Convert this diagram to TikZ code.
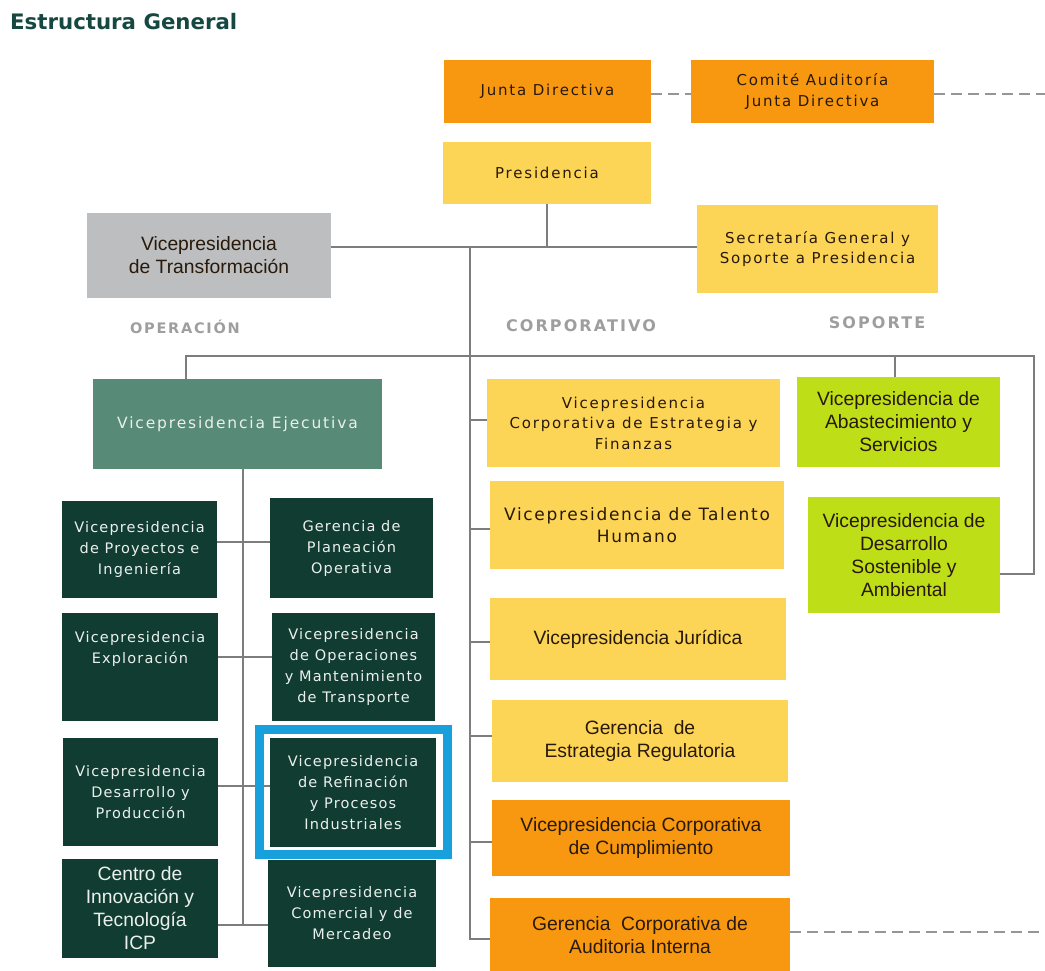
\documentclass[tikz,border=0pt]{standalone}
\usepackage{fontspec}
\newfontfamily\ari{Liberation Sans}
\newfontfamily\pixA[LetterSpace=12]{DejaVu Sans}
\newfontfamily\pixB[LetterSpace=8]{DejaVu Sans}
\newfontfamily\pixT[LetterSpace=10]{DejaVu Sans}
\newfontfamily\labf[LetterSpace=13]{DejaVu Sans}
\newfontfamily\labo[LetterSpace=12]{DejaVu Sans}
\newfontfamily\titf{DejaVu Sans}
\definecolor{cOr}{RGB}{248,152,16}
\definecolor{cYl}{RGB}{253,213,86}
\definecolor{cGn}{RGB}{190,222,24}
\definecolor{cTe}{RGB}{88,138,120}
\definecolor{cDk}{RGB}{17,60,50}
\definecolor{cGr}{RGB}{188,190,192}
\definecolor{cBl}{RGB}{24,160,220}
\definecolor{cLn}{RGB}{125,125,125}
\definecolor{cDs}{RGB}{150,150,150}
\definecolor{cTx}{RGB}{40,25,10}
\definecolor{cWt}{RGB}{235,240,236}
\definecolor{cLb}{RGB}{158,158,158}
\definecolor{cTi}{RGB}{22,72,66}
\tikzset{
  box/.style={rectangle, inner sep=0pt, outer sep=0pt, align=center, draw=none},
  fpa/.style={font=\pixA\fontsize{15}{20.5}\selectfont},
  fpe/.style={font=\pixA\fontsize{15.5}{20.5}\selectfont},
  fpb/.style={font=\pixB\fontsize{14.5}{21}\selectfont},
  fpt/.style={font=\pixT\fontsize{17}{22}\selectfont},
  far/.style={font=\ari\fontsize{19.3}{23}\selectfont},
  orbox/.style={box, fill=cOr, text=cTx},
  ylbox/.style={box, fill=cYl, text=cTx},
  gnbox/.style={box, fill=cGn, text=cTx},
  grbox/.style={box, fill=cGr, text=cTx},
  tebox/.style={box, fill=cTe, text=cWt},
  dkbox/.style={box, fill=cDk, text=cWt},
  conn/.style={draw=cLn, line width=1.3pt},
  dashln/.style={draw=cDs, line width=1.4pt, dash pattern=on 11pt off 6pt},
  seclab/.style={text=cLb, inner sep=0pt, font=\labf\bfseries\fontsize{16}{18}\selectfont},
}
\newcommand\bx[7]{\node[#2, minimum width={(#5-#3)*1pt}, minimum height={(#6-#4)*1pt}] (#1) at ({(#3+#5)/2},{(#4+#6)/2}) {#7};}
\begin{document}
\begin{tikzpicture}[x=1pt,y=-1pt]
\useasboundingbox (0,0) rectangle (1045,971);
\fill[white] (0,0) rectangle (1045,971);

% title and section labels
\node[anchor=base west, inner sep=0pt, text=cTi, font=\titf\bfseries\fontsize{21.3}{24}\selectfont] (title) at (10,30) {Estructura General};
\node[seclab, font=\labo\bfseries\fontsize{14.5}{18}\selectfont] (lop) at (185,327) {OPERACIÓN};
\node[seclab] (lco) at (581,326) {CORPORATIVO};
\node[seclab] (lso) at (877,323) {SOPORTE};

% top boxes
\bx{junta}{orbox,fpa}{444}{60}{651}{123}{Junta Directiva}
\bx{comite}{orbox,fpa}{691}{60}{934}{123}{Comité Auditoría\\Junta Directiva}
\bx{pres}{ylbox,fpa}{443}{142}{651}{204}{Presidencia}
\bx{trans}{grbox,far}{87}{213}{331}{298}{Vicepresidencia\\de Transformación}
\bx{secr}{ylbox,fpa}{697}{205}{938}{293}{Secretaría General y\\Soporte a Presidencia}

% operacion
\bx{vej}{tebox,fpe}{93}{379}{382}{469}{Vicepresidencia Ejecutiva}
\bx{proy}{dkbox,fpb}{62}{501}{217}{598}{Vicepresidencia\\de Proyectos e\\Ingeniería}
\bx{plan}{dkbox,fpb}{270}{498}{433}{598}{Gerencia de\\Planeación\\Operativa}
\bx{expl}{dkbox,fpb}{62}{613}{218}{721}{}
\node[fpb, text=cWt, align=center, inner sep=0pt] (explT) at ([yshift=18pt]expl.center) {Vicepresidencia\\Exploración};
\bx{oper}{dkbox,fpb}{272}{613}{435}{721}{Vicepresidencia\\de Operaciones\\y Mantenimiento\\de Transporte}
\bx{desa}{dkbox,fpb}{63}{738}{218}{846}{Vicepresidencia\\Desarrollo y\\Producción}
\bx{refi}{dkbox,fpb}{270}{738}{436}{847}{Vicepresidencia\\de Refinación\\y Procesos\\Industriales}
\bx{cent}{dkbox,far}{62}{859}{218}{958}{Centro de\\Innovación y\\Tecnología\\ICP}
\bx{come}{dkbox,fpb}{268}{860}{436}{967}{Vicepresidencia\\Comercial y de\\Mercadeo}

% corporativo
\bx{cfin}{ylbox,fpa}{487}{379}{780}{467}{Vicepresidencia\\Corporativa de Estrategia y\\Finanzas}
\bx{tal}{ylbox,fpt}{490}{481}{784}{569}{Vicepresidencia de Talento\\Humano}
\bx{jur}{ylbox,far}{490}{598}{786}{680}{Vicepresidencia Jurídica}
\bx{reg}{ylbox,far}{492}{700}{788}{782}{Gerencia~ de\\Estrategia Regulatoria}
\bx{cum}{orbox,far}{492}{800}{790}{876}{Vicepresidencia Corporativa\\de Cumplimiento}
\bx{aud}{orbox,far}{490}{898}{790}{972}{Gerencia~ Corporativa de\\Auditoria Interna}

% soporte
\bx{abas}{gnbox,far}{797}{377}{1000}{467}{Vicepresidencia de\\Abastecimiento y\\Servicios}
\bx{dsos}{gnbox,far}{808}{497}{1000}{613}{Vicepresidencia de\\Desarrollo\\Sostenible y\\Ambiental}

% coordinates
\coordinate (hT) at (470,247);
\coordinate (hB) at (470,939);
\coordinate (sL) at (186,356);
\coordinate (sR) at (1034,356);
\coordinate (abT) at (895,356);
\coordinate (dsC) at (1034,574);
\coordinate (c1) at (470,420);
\coordinate (c2) at (470,529);
\coordinate (c3) at (470,642);
\coordinate (c4) at (470,736);
\coordinate (c5) at (470,842);
\coordinate (oT) at (243,469);
\coordinate (oB) at (243,925);
\coordinate (o1) at (243,542);
\coordinate (o2) at (243,657);
\coordinate (o3) at (243,786);
\coordinate (edgeA) at (1046,94);
\coordinate (edgeB) at (1046,932);

% connectors
\draw[conn] (pres.south) -- (pres.south |- hT);
\draw[conn] (trans.east |- hT) -- (secr.west |- hT);
\draw[conn] (hT) -- (hB) -- (aud.west |- hB);
\draw[conn] (vej.north -| sL) -- (sL) -- (sR) -- (dsC) -- (dsos.east |- dsC);
\draw[conn] (abT) -- (abas.north -| abT);
\draw[conn] (c1) -- (cfin.west |- c1);
\draw[conn] (c2) -- (tal.west |- c2);
\draw[conn] (c3) -- (jur.west |- c3);
\draw[conn] (c4) -- (reg.west |- c4);
\draw[conn] (c5) -- (cum.west |- c5);
\draw[conn] (vej.south -| oT) -- (oB);
\draw[conn] (proy.east |- o1) -- (plan.west |- o1);
\draw[conn] (expl.east |- o2) -- (oper.west |- o2);
\draw[conn] (desa.east |- o3) -- (refi.west |- o3);
\draw[conn] (cent.east |- oB) -- (come.west |- oB);

% dashed links
\draw[dashln] (junta.east |- edgeA) -- (comite.west |- edgeA);
\draw[dashln] (comite.east |- edgeA) -- (edgeA);
\draw[dashln] (aud.east |- edgeB) -- (edgeB);

% highlight frame
\draw[cBl, line width=9pt] ([shift={(-10.5,-8.5)}]refi.north west) rectangle ([shift={(11.5,7.5)}]refi.south east);
\end{tikzpicture}
\end{document}
